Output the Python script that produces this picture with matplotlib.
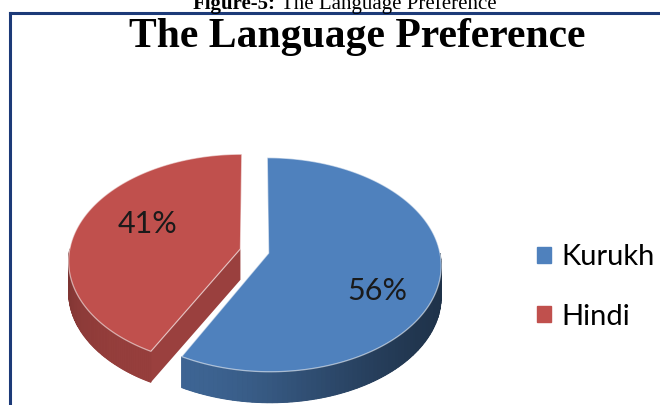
import numpy as np
import matplotlib.pyplot as plt
from matplotlib.patches import Polygon, Patch
from matplotlib.lines import Line2D
from matplotlib.colors import to_rgb

# data
languages = ["Kurukh", "Hindi"]
shares = [56, 41]
share_labels = ["56%", "41%"]
top_colors = ["#4f81bd", "#c0504d"]

W, H = 660, 405

# 3d pie layout, in figure pixels
cx, cy = 254.5, 251.0
rx, ry = 171.0, 105.3
persp = 0.108
depth = 31.0
explode = 0.085
label_r = 0.66
label_shift = np.radians(13)


def project(theta, r, off, z=0.0):
    # theta clockwise from 12 o'clock, v > 0 is towards the viewer
    u = r * np.sin(theta) + off[0]
    v = -r * np.cos(theta) + off[1]
    k = 1.0 / (1.0 - persp * v)
    return cx + rx * u * k, cy + ry * v * k + z


def wall_shade(theta):
    d = np.degrees(theta) - 210
    w = 55 if d < 0 else 90
    return 0.38 + 0.4 * np.exp(-(d / w) ** 2)


def shaded(color, f):
    return tuple(np.array(to_rgb(color)) * f)


fig = plt.figure(figsize=(W / 100, H / 100), dpi=100)
ax = fig.add_axes([0, 0, 1, 1])
ax.set_xlim(0, W)
ax.set_ylim(H, 0)
ax.axis("off")

fractions = np.array(shares) / sum(shares)
ends = np.cumsum(fractions) * 2 * np.pi
starts = ends - fractions * 2 * np.pi

# back slices first
for i in reversed(range(len(shares))):
    t0, t1 = starts[i], ends[i]
    mid = (t0 + t1) / 2
    off = (explode * np.sin(mid), -explode * np.cos(mid))
    col = top_colors[i]

    # cut faces that turn towards the viewer
    for t, sgn in [(t0, -1), (t1, 1)]:
        if sgn * np.sin(t) > 1e-6:
            p0 = project(t, 0, off)
            p1 = project(t, 1, off)
            face = [p0, p1, (p1[0], p1[1] + depth), (p0[0], p0[1] + depth)]
            ax.add_patch(Polygon(face, closed=True, fc=shaded(col, 0.8), ec="none"))

    # outer wall, only the front half shows
    a = max(t0, np.pi / 2)
    b = min(t1, 3 * np.pi / 2)
    if b > a:
        ts = np.linspace(a, b, 80)
        upper = [project(t, 1, off) for t in ts]
        lower = [(x, y + depth) for x, y in upper[::-1]]
        ax.add_patch(Polygon(upper + lower, closed=True,
                             fc=shaded(col, wall_shade((a + b) / 2)), ec="none"))
        for j in range(len(ts) - 1):
            pa, pb = upper[j], upper[j + 1]
            quad = [pa, pb, (pb[0], pb[1] + depth), (pa[0], pa[1] + depth)]
            f = wall_shade((ts[j] + ts[j + 1]) / 2)
            ax.add_patch(Polygon(quad, closed=True, fc=shaded(col, f),
                                 ec=shaded(col, f), lw=0.7))

    # top face
    ts = np.linspace(t0, t1, 200)
    pts = [project(0, 0, off)] + [project(t, 1, off) for t in ts]
    ax.add_patch(Polygon(pts, closed=True, fc=col, ec=(1, 1, 1, 0.55), lw=0.9))

    lx, ly = project(mid + label_shift, label_r, off)
    ax.text(lx + 4, ly + 3, share_labels[i], fontsize=22, family="Lato",
            color="#1a1a1a", ha="center", va="center_baseline")

# frame of the figure box
frame = "#1c3a78"
ax.add_line(Line2D([9.5, 9.5], [H, 12.5], color=frame, lw=2.2))
ax.add_line(Line2D([9.5, W], [12.5, 12.5], color=frame, lw=2.2))

# captions
ax.text(276, 9, "Figure-5:", fontsize=15, family="Liberation Serif",
        fontweight="bold", ha="right", va="baseline")
ax.text(281, 9, "The Language Preference", fontsize=15,
        family="Liberation Serif", ha="left", va="baseline")
ax.text(357, 47, "The Language Preference", fontsize=30,
        family="Liberation Serif", fontweight="bold", ha="center",
        va="baseline")

handles = [Patch(color=c, label=l) for c, l in zip(top_colors, languages)]
fig.legend(handles=handles, loc="upper left",
           bbox_to_anchor=(537 / W, 1 - 244 / H), frameon=False,
           prop={"family": "Lato", "size": 21}, handlelength=0.48,
           handleheight=0.48, handletextpad=0.35, labelspacing=1.15,
           borderpad=0, borderaxespad=0)

fig.savefig("out.png", dpi=100)
